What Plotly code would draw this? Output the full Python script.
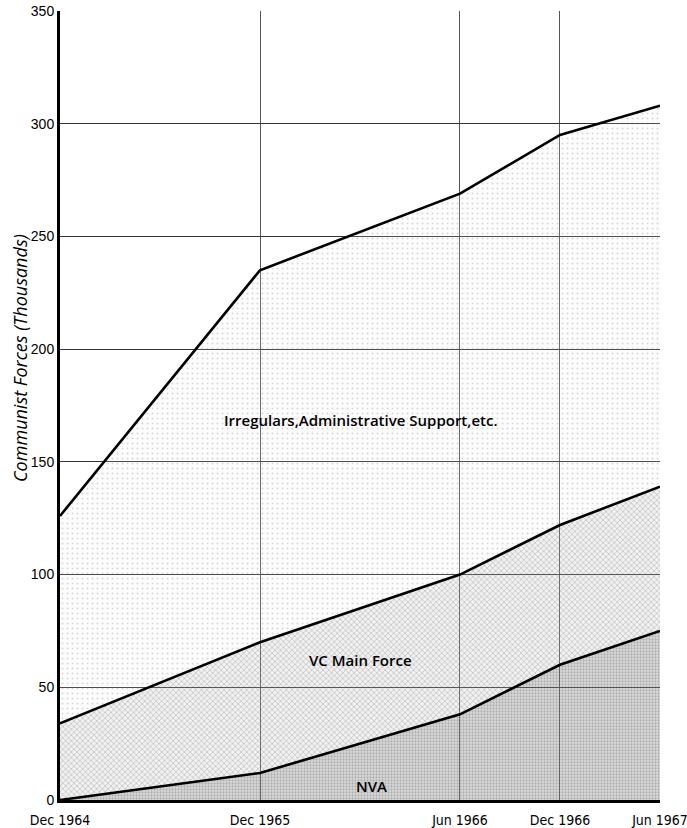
import plotly.graph_objects as go

# Data (thousands)
x_labels = ["Dec 1964", "Dec 1965", "Jun 1966", "Dec 1966", "Jun 1967"]
x_pos = [0, 2, 4, 5, 6]  # horizontal spacing used by the original chart
nva_top = [0, 12, 38, 60, 75]
vc_main_top = [34, 70, 100, 122, 139]
total_top = [126, 235, 269, 295, 308]
y_ticks = [0, 50, 100, 150, 200, 250, 300, 350]

line = dict(color="black", width=2.6)

fig = go.Figure()
fig.add_trace(go.Scatter(
    x=x_pos, y=nva_top, mode="lines", line=line, fill="tozeroy",
    fillcolor="rgba(120,120,120,0.40)",
    fillpattern=dict(shape=".", size=3, solidity=0.45, fgcolor="rgba(60,60,60,0.55)",
                     bgcolor="rgba(150,150,150,0.35)"),
    name="NVA", showlegend=False))
fig.add_trace(go.Scatter(
    x=x_pos, y=vc_main_top, mode="lines", line=line, fill="tonexty",
    fillcolor="rgba(150,150,150,0.3)",
    fillpattern=dict(shape="x", size=4, solidity=0.35, fgcolor="rgba(70,70,70,0.55)",
                     bgcolor="rgba(200,200,200,0.25)"),
    name="VC Main Force", showlegend=False))
fig.add_trace(go.Scatter(
    x=x_pos, y=total_top, mode="lines", line=line, fill="tonexty",
    fillcolor="rgba(200,200,200,0.15)",
    fillpattern=dict(shape=".", size=5, solidity=0.12, fgcolor="rgba(90,90,90,0.45)",
                     bgcolor="rgba(235,235,235,0.15)"),
    name="Irregulars", showlegend=False))

ann_font = dict(family="Open Sans, DejaVu Sans, sans-serif", size=15, color="black", weight=600)
fig.add_annotation(x=3.015, y=168.5, text="Irregulars,Administrative Support,etc.",
                   showarrow=False, font=ann_font)
fig.add_annotation(x=3.0, y=62, text="VC Main Force", showarrow=False, font=ann_font)
fig.add_annotation(x=3.12, y=6.3, text="NVA", showarrow=False, font=ann_font)
fig.add_annotation(x=-0.067, y=196, xref="paper", yref="y", text="<i>Communist Forces (Thousands)</i>",
                   textangle=-90, showarrow=False, xanchor="center", yanchor="middle",
                   font=dict(family="Open Sans, DejaVu Sans, sans-serif", size=18, color="black"))

fig.update_layout(
    width=687, height=828,
    margin=dict(l=60, r=27, t=11, b=28, autoexpand=False),
    paper_bgcolor="white", plot_bgcolor="white",
    xaxis=dict(range=[0, 6.0001], tickvals=x_pos, ticktext=x_labels, showgrid=True,
               gridcolor="#555555", gridwidth=1, zeroline=False, automargin=False,
               ticklabeloverflow="allow", ticklabelstandoff=5,
               showline=True, linecolor="black", linewidth=3, ticks="",
               tickfont=dict(family="DejaVu Sans Condensed, Liberation Sans Narrow, Liberation Sans, sans-serif",
                             size=14, color="black")),
    yaxis=dict(range=[0, 350], tickvals=y_ticks, showgrid=True, gridcolor="#333333",
               gridwidth=1, zeroline=False, showline=True, linecolor="black",
               linewidth=3, ticks="", automargin=False, ticklabeloverflow="allow",
               tickfont=dict(family="Liberation Sans, Arial, sans-serif", size=14,
                             color="black")),
)

# remove the default page margin so the 687x828 figure fills the window exactly
fig.write_html("out.html", config={"displayModeBar": False},
               post_script="document.body.style.margin='0';document.body.style.overflow='hidden';")
